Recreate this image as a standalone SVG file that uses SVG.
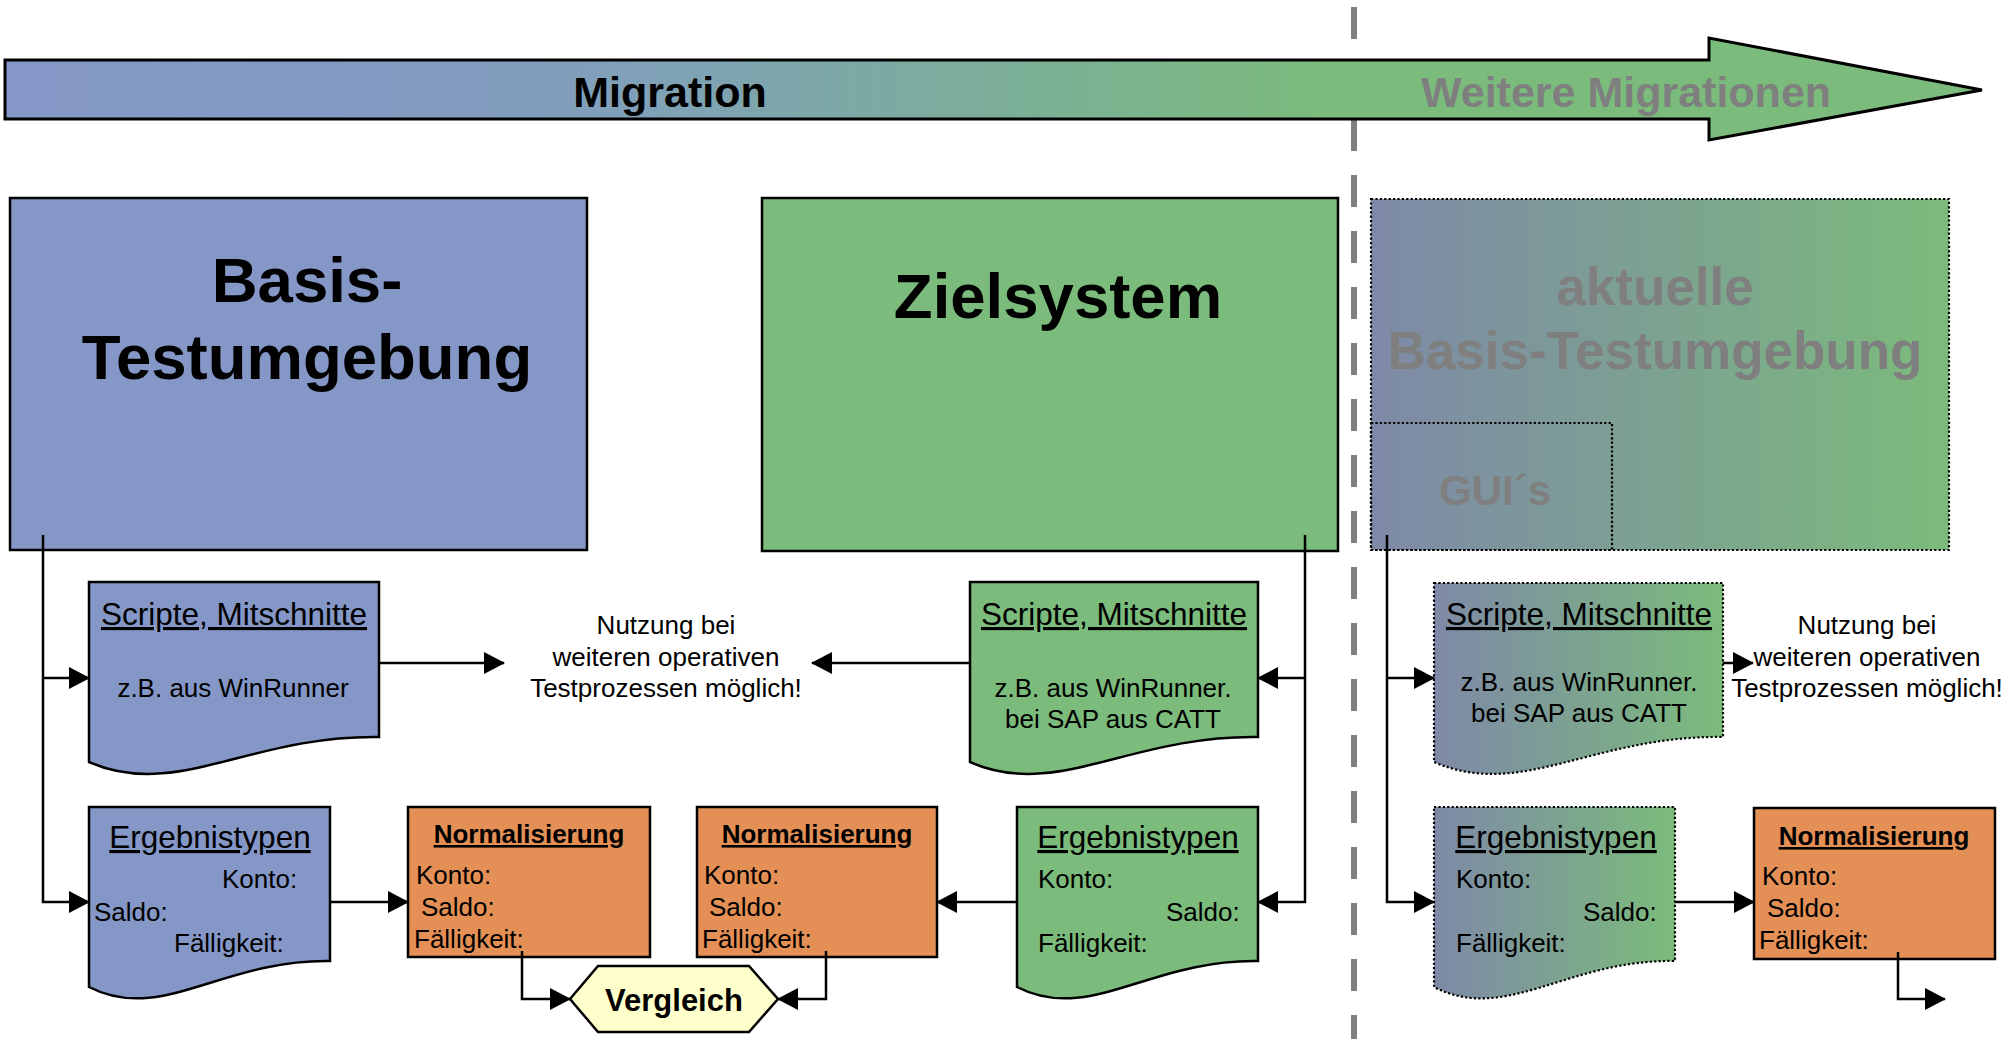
<svg xmlns="http://www.w3.org/2000/svg" width="2011" height="1039" viewBox="0 0 2011 1039">
<style>
text{font-family:"Liberation Sans",Arial,sans-serif;}
.big{font-size:63.5px;font-weight:bold;fill:#000;text-anchor:middle;}
.grey{fill:#7F7F7F;font-weight:bold;text-anchor:middle;}
.ttl{font-size:31.5px;text-decoration:underline;text-anchor:middle;}
.sm{font-size:26px;}
.mid{text-anchor:middle;}
.nt{font-size:26px;font-weight:bold;text-decoration:underline;text-anchor:middle;}
.box{stroke:#000;stroke-width:2.5;}
.dot{stroke:#000;stroke-width:2.2;stroke-dasharray:2.2 2.2;}
.blue{fill:#8497C6;}
.green{fill:#7BBB7B;}
.orange{fill:#E38F55;}
.con{fill:none;stroke:#000;stroke-width:2.5;marker-end:url(#ah);}
</style>
<defs>
<linearGradient id="migGrad" gradientUnits="userSpaceOnUse" x1="5" y1="0" x2="1330" y2="0">
<stop offset="0" stop-color="#8497C6"/>
<stop offset="0.25" stop-color="#8399C3"/>
<stop offset="0.47" stop-color="#80A0B9"/>
<stop offset="0.67" stop-color="#7CAAA2"/>
<stop offset="0.92" stop-color="#7BB785"/>
<stop offset="1" stop-color="#7BBB7B"/>
</linearGradient>
<linearGradient id="fadeGrad" x1="0" y1="0" x2="1" y2="0">
<stop offset="0" stop-color="#7E89A7"/>
<stop offset="1" stop-color="#7BBB7B"/>
</linearGradient>
<marker id="ah" viewBox="0 0 21 22" refX="20" refY="11" markerWidth="21" markerHeight="22" markerUnits="userSpaceOnUse" orient="auto">
<path d="M0,0 L21,11 L0,22 Z" fill="#000"/>
</marker>
</defs>

<g id="divider">
<line x1="1354" y1="7" x2="1354" y2="1039" stroke="#808080" stroke-width="6" stroke-dasharray="32 24"/>
</g>

<g id="migration-arrow">
<polygon points="5,60 1709,60 1709,38 1982,90 1709,140 1709,119 5,119" fill="url(#migGrad)" stroke="#000" stroke-width="3"/>
<text x="670" y="107" font-size="43" font-weight="bold" text-anchor="middle">Migration</text>
<text x="1626" y="107" font-size="43" class="grey">Weitere Migrationen</text>
</g>

<g id="basis-testumgebung">
<rect x="10" y="198" width="577" height="352" class="box blue"/>
<text x="307" y="302" class="big">Basis-</text>
<text x="307" y="379" class="big">Testumgebung</text>
</g>

<g id="zielsystem">
<rect x="762" y="198" width="576" height="353" class="box green"/>
<text x="1058" y="318" class="big">Zielsystem</text>
</g>

<g id="aktuelle-basis">
<rect x="1371" y="199" width="578" height="351" fill="url(#fadeGrad)" class="dot"/>
<text x="1655" y="305" font-size="53" class="grey">aktuelle</text>
<text x="1655" y="369" font-size="53" class="grey">Basis-Testumgebung</text>
</g>

<g id="guis">
<rect x="1371" y="423" width="241" height="127" fill="none" class="dot"/>
<text x="1495" y="505" font-size="42" class="grey">GUI´s</text>
</g>

<g id="scripte-basis">
<path d="M89,582 H379 V737 C250,735 176,800 89,762 Z" class="box blue"/>
<text x="234" y="625" class="ttl">Scripte, Mitschnitte</text>
<text x="233" y="697" class="sm mid">z.B. aus WinRunner</text>
</g>

<g id="nutzung-1">
<text x="666" y="634" class="sm mid">Nutzung bei</text>
<text x="666" y="666" class="sm mid">weiteren operativen</text>
<text x="666" y="697" class="sm mid">Testprozessen möglich!</text>
</g>

<g id="scripte-ziel">
<path d="M970,582 H1258 V737 C1130,735 1056,800 970,762 Z" class="box green"/>
<text x="1114" y="625" class="ttl">Scripte, Mitschnitte</text>
<text x="1113" y="697" class="sm mid">z.B. aus WinRunner.</text>
<text x="1113" y="728" class="sm mid">bei SAP aus CATT</text>
</g>

<g id="scripte-aktuell">
<path d="M1434,583 H1723 V737 C1594,735 1521,800 1434,762 Z" fill="url(#fadeGrad)" class="dot"/>
<text x="1579" y="625" class="ttl">Scripte, Mitschnitte</text>
<text x="1579" y="691" class="sm mid">z.B. aus WinRunner.</text>
<text x="1579" y="722" class="sm mid">bei SAP aus CATT</text>
</g>

<g id="nutzung-2">
<text x="1867" y="634" class="sm mid">Nutzung bei</text>
<text x="1867" y="666" class="sm mid">weiteren operativen</text>
<text x="1867" y="697" class="sm mid">Testprozessen möglich!</text>
</g>

<g id="ergebnis-basis">
<path d="M89,807 H330 V961 C223,959 161,1024 89,987 Z" class="box blue"/>
<text x="210" y="848" class="ttl">Ergebnistypen</text>
<text x="222" y="888" class="sm">Konto:</text>
<text x="94" y="921" class="sm">Saldo:</text>
<text x="174" y="952" class="sm">Fälligkeit:</text>
</g>

<g id="normalisierung-1">
<rect x="408" y="807" width="242" height="150" class="box orange"/>
<text x="529" y="843" class="nt">Normalisierung</text>
<text x="416" y="884" class="sm">Konto:</text>
<text x="421" y="916" class="sm">Saldo:</text>
<text x="414" y="948" class="sm">Fälligkeit:</text>
</g>

<g id="normalisierung-2">
<rect x="697" y="807" width="240" height="150" class="box orange"/>
<text x="817" y="843" class="nt">Normalisierung</text>
<text x="704" y="884" class="sm">Konto:</text>
<text x="709" y="916" class="sm">Saldo:</text>
<text x="702" y="948" class="sm">Fälligkeit:</text>
</g>

<g id="ergebnis-ziel">
<path d="M1017,807 H1258 V961 C1151,959 1089,1024 1017,987 Z" class="box green"/>
<text x="1138" y="848" class="ttl">Ergebnistypen</text>
<text x="1038" y="888" class="sm">Konto:</text>
<text x="1166" y="921" class="sm">Saldo:</text>
<text x="1038" y="952" class="sm">Fälligkeit:</text>
</g>

<g id="vergleich">
<polygon points="570,999 598,966 749,966 778,999 749,1032 598,1032" fill="#FFFFCC" stroke="#000" stroke-width="2.5"/>
<text x="674" y="1011" font-size="31" font-weight="bold" text-anchor="middle">Vergleich</text>
</g>

<g id="ergebnis-aktuell">
<path d="M1434,807 H1675 V961 C1568,959 1506,1024 1434,987 Z" fill="url(#fadeGrad)" class="dot"/>
<text x="1556" y="848" class="ttl">Ergebnistypen</text>
<text x="1456" y="888" class="sm">Konto:</text>
<text x="1583" y="921" class="sm">Saldo:</text>
<text x="1456" y="952" class="sm">Fälligkeit:</text>
</g>

<g id="normalisierung-3">
<rect x="1754" y="808" width="241" height="151" class="box orange"/>
<text x="1874" y="845" class="nt">Normalisierung</text>
<text x="1762" y="885" class="sm">Konto:</text>
<text x="1767" y="917" class="sm">Saldo:</text>
<text x="1759" y="949" class="sm">Fälligkeit:</text>
</g>

<g id="connectors">
<path d="M43,535 V902 H89" class="con"/>
<path d="M43,678 H89" class="con"/>
<path d="M379,663 H504" class="con"/>
<path d="M970,663 H812" class="con"/>
<path d="M1305,535 V902 H1258" class="con"/>
<path d="M1305,678 H1258" class="con"/>
<path d="M330,902 H408" class="con"/>
<path d="M1017,902 H937" class="con"/>
<path d="M522,951 V999 H570" class="con"/>
<path d="M826,951 V999 H778" class="con"/>
<path d="M1387,535 V902 H1434" class="con"/>
<path d="M1387,678 H1434" class="con"/>
<path d="M1723,663 H1753" class="con"/>
<path d="M1675,902 H1754" class="con"/>
<path d="M1898,952 V999 H1945" class="con"/>
</g>
</svg>
